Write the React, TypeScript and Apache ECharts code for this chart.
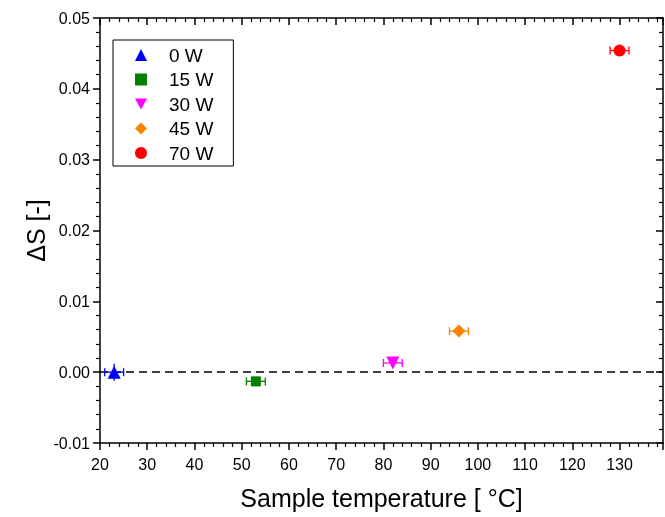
import React, { useEffect, useRef } from "react";
import * as echarts from "echarts";

const seriesNames = ["0 W", "15 W", "30 W", "45 W", "70 W"];
const temperatures = [23, 53, 82, 96, 130];
const deltaS = [0.0, -0.0013, 0.0013, 0.0058, 0.0454];
const tempErr = [2, 2, 2, 2, 2];
const deltaSErr = [0.0012, 0.0005, 0.0005, 0.0005, 0.0005];
const colors = ["#0000FF", "#008000", "#FF00FF", "#FF8000", "#FF0000"];
const symbols = ["triangle", "rect", "path://M0,0L10,0L5,9Z", "diamond", "circle"];
const symbolSizes = [13, 10, 13, 13, 12];

const FONT = "'Liberation Sans', Arial, sans-serif";

export default function App() {
  const ref = useRef<HTMLDivElement>(null);
  useEffect(() => {
    if (!ref.current) return;
    const chart = echarts.init(ref.current, undefined, { renderer: "svg" });

    const scatterSeries: any[] = seriesNames.map((name, i) => ({
      type: "scatter",
      name,
      data: [[temperatures[i], deltaS[i]]],
      symbol: symbols[i],
      symbolSize: symbolSizes[i],
      itemStyle: { color: colors[i], opacity: 1 },
      z: 5,
      ...(i === 0
        ? {
            markLine: {
              silent: true,
              symbol: "none",
              label: { show: false },
              lineStyle: { color: "#000", type: [8, 5], width: 1.5 },
              data: [{ yAxis: 0 }],
              z: 1,
            },
          }
        : {}),
    }));

    const errSeries: any[] = seriesNames.map((name, i) => ({
      type: "custom",
      name: name + " err",
      data: [[temperatures[i], deltaS[i], tempErr[i], deltaSErr[i]]],
      encode: { x: 0, y: 1 },
      z: 3,
      renderItem: (params: any, api: any) => {
        const x = api.value(0);
        const y = api.value(1);
        const xe = api.value(2);
        const ye = api.value(3);
        const l = api.coord([x - xe, y]);
        const r = api.coord([x + xe, y]);
        const b = api.coord([x, y - ye]);
        const t = api.coord([x, y + ye]);
        const cap = 4;
        const style = { stroke: colors[i], lineWidth: 1.3 };
        return {
          type: "group",
          children: [
            { type: "line", shape: { x1: l[0], y1: l[1], x2: r[0], y2: r[1] }, style },
            { type: "line", shape: { x1: l[0], y1: l[1] - cap, x2: l[0], y2: l[1] + cap }, style },
            { type: "line", shape: { x1: r[0], y1: r[1] - cap, x2: r[0], y2: r[1] + cap }, style },
            { type: "line", shape: { x1: b[0], y1: b[1], x2: t[0], y2: t[1] }, style },
          ],
        };
      },
    }));

    const option: any = {
      animation: false,
      textStyle: { fontFamily: FONT },
      grid: { left: 100, right: 2, top: 18, bottom: 74 },
      legend: {
        orient: "vertical",
        left: 113,
        top: 40,
        data: seriesNames.map((n, i) => ({ name: n, icon: symbols[i] })),
        itemWidth: 12,
        itemHeight: 12,
        itemGap: 5.5,
        padding: [5.5, 20, 3.5, 22],
        borderColor: "#000",
        borderWidth: 1,
        textStyle: { fontSize: 19, color: "#000", fontFamily: FONT, padding: [0, 0, 0, 17] },
        selectedMode: false,
      },
      xAxis: [
        {
          type: "value",
          min: 20,
          max: 139.2,
          interval: 10,
          position: "bottom",
          name: "Sample temperature [ °C]",
          nameLocation: "middle",
          nameGap: 42,
          nameMoveOverlap: false,
          nameTextStyle: { fontSize: 25, color: "#000", fontFamily: FONT },
          axisLine: { show: true, onZero: false, lineStyle: { color: "#000", width: 1.5 } },
          axisTick: { show: true, inside: false, length: 7, lineStyle: { color: "#000", width: 1.5 } },
          minorTick: { show: true, splitNumber: 5, length: 4, lineStyle: { color: "#000", width: 1.2 } },
          axisLabel: { fontSize: 16, color: "#000", margin: 13, showMaxLabel: false, fontFamily: FONT },
          splitLine: { show: false },
        },
        {
          type: "value",
          min: 20,
          max: 139.2,
          interval: 10,
          position: "top",
          axisLine: { show: true, onZero: false, lineStyle: { color: "#000", width: 1.5 } },
          axisTick: { show: true, inside: true, length: 7, lineStyle: { color: "#000", width: 1.5 } },
          minorTick: { show: true, splitNumber: 5, length: 4, lineStyle: { color: "#000", width: 1.2 } },
          axisLabel: { show: false },
          splitLine: { show: false },
        },
      ],
      yAxis: [
        {
          type: "value",
          min: -0.01,
          max: 0.05,
          interval: 0.01,
          position: "left",
          name: "ΔS [-]",
          nameLocation: "middle",
          nameGap: 52,
          nameMoveOverlap: false,
          nameTextStyle: { fontSize: 25, color: "#000", fontFamily: FONT },
          axisLine: { show: true, onZero: false, lineStyle: { color: "#000", width: 1.5 } },
          axisTick: { show: true, inside: false, length: 7, lineStyle: { color: "#000", width: 1.5 } },
          minorTick: { show: true, splitNumber: 5, length: 4, lineStyle: { color: "#000", width: 1.2 } },
          axisLabel: {
            fontSize: 16,
            color: "#000",
            margin: 10,
            fontFamily: FONT,
            formatter: (v: number) => v.toFixed(2),
          },
          splitLine: { show: false },
        },
        {
          type: "value",
          min: -0.01,
          max: 0.05,
          interval: 0.01,
          position: "right",
          axisLine: { show: true, onZero: false, lineStyle: { color: "#000", width: 1.5 } },
          axisTick: { show: true, inside: true, length: 7, lineStyle: { color: "#000", width: 1.5 } },
          minorTick: { show: true, splitNumber: 5, length: 4, lineStyle: { color: "#000", width: 1.2 } },
          axisLabel: { show: false },
          splitLine: { show: false },
        },
      ],
      series: [...errSeries, ...scatterSeries],
    };

    chart.setOption(option);
    return () => chart.dispose();
  }, []);

  return (
    <div
      ref={ref}
      style={{ position: "fixed", left: 0, top: 0, width: 665, height: 517 }}
    />
  );
}
